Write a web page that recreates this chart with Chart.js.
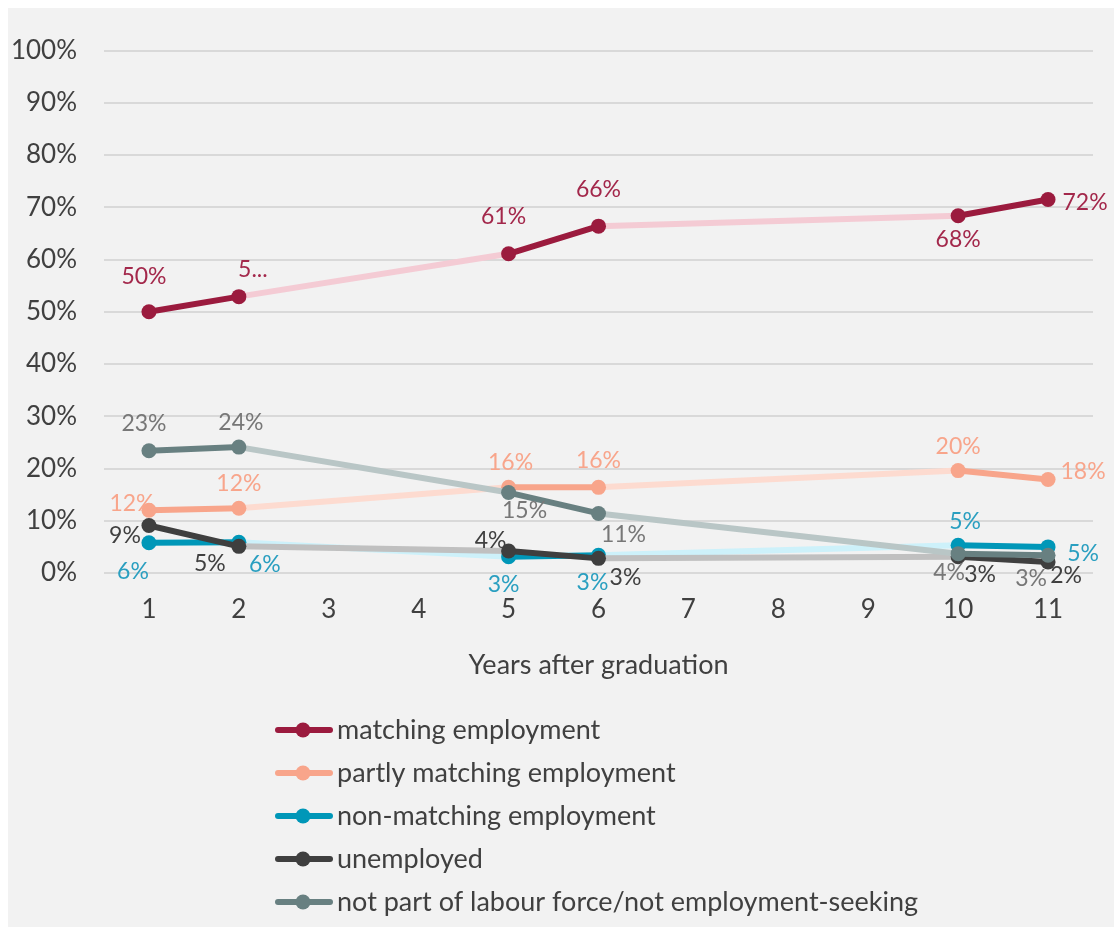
<!DOCTYPE html>
<html>
<head>
<meta charset="utf-8">
<script src="https://cdn.jsdelivr.net/npm/chart.js@4.4.1/dist/chart.umd.min.js"></script>
<style>
body { margin: 8px 0 0 8px; background: #fff; }
#wrap { width: 1106px; height: 919px; background: #f2f2f2; }
</style>
</head>
<body>
<div id="wrap"><canvas id="chart" width="1106" height="919"></canvas></div>
<script>
// x ticks and the survey years that have values
const yearTicks = [1, 2, 3, 4, 5, 6, 7, 8, 9, 10, 11]
const surveyYears = [1, 2, 5, 6, 10, 11]

const seriesNames = [
    'matching employment',
    'partly matching employment',
    'non-matching employment',
    'unemployed',
    'not part of labour force/not employment-seeking'
]
const matching = [50.0, 52.9, 61.1, 66.4, 68.4, 71.5]
const partlyMatching = [12.0, 12.4, 16.4, 16.4, 19.6, 17.9]
const nonMatching = [5.8, 5.9, 3.1, 3.4, 5.3, 5.0]
const unemployed = [9.1, 5.1, 4.2, 2.8, 3.1, 2.1]
const notInLabourForce = [23.4, 24.1, 15.4, 11.4, 3.7, 3.4]

const yTicks = [0, 10, 20, 30, 40, 50, 60, 70, 80, 90, 100]

// colours: solid line, faded line between survey waves, label text
const colors = ['#9b1b3e', '#f8a58b', '#0097b8', '#3f3f3f', '#688081']
const fadedColors = ['#f4cbd4', '#fddbd0', '#cdf1fa', '#c0c0c0', '#b9c6c6']
const labelColors = ['#a3284b', '#f8a58b', '#2a9fc0', '#404040', '#777777']

// where each value label sits relative to its point (dx, dy of text centre)
const labelOffsets = [
    [[-5, -35], [14, -27], [-5, -37], [0, -37], [0, 24], [37, 3]],
    [[-17, -7], [0, -25], [2, -25], [0, -27], [0, -24], [35, -8]],
    [[-16, 29], [26, 22], [-5, 28], [-6, 27], [7, -24], [35, 7]],
    [[-24, 10], [-29, 17], [-18, -10], [27, 19], [22, 18], [18, 14]],
    [[-5, -27], [2, -25], [16, 18], [25, 21], [-9, 19], [-17, 23]]
]
// labels Excel cut short
const labelOverrides = { '0-1': '5...' }

const allSeries = [matching, partlyMatching, nonMatching, unemployed, notInLabourForce]
const FONT = 'Lato, "Open Sans", sans-serif'

const datasets = allSeries.map((values, i) => ({
    label: seriesNames[i],
    data: values.map((v, j) => ({ x: surveyYears[j], y: v })),
    borderColor: colors[i],
    backgroundColor: colors[i],
    pointBackgroundColor: colors[i],
    pointBorderWidth: 0,
    pointRadius: 7.5,
    borderWidth: 6,
    borderCapStyle: 'round',
    order: allSeries.length - i,
    segment: {
        borderColor: ctx => (ctx.p1.parsed.x - ctx.p0.parsed.x > 1 ? fadedColors[i] : colors[i])
    }
}))

const valueLabels = {
    id: 'valueLabels',
    afterDatasetsDraw(chart) {
        const ctx = chart.ctx
        ctx.save()
        ctx.font = '23px ' + FONT
        ctx.textAlign = 'center'
        ctx.textBaseline = 'middle'
        chart.data.datasets.forEach((ds, i) => {
            const meta = chart.getDatasetMeta(i)
            meta.data.forEach((pt, j) => {
                const off = labelOffsets[i][j]
                const txt = labelOverrides[i + '-' + j] || Math.round(allSeries[i][j]) + '%'
                ctx.fillStyle = labelColors[i]
                ctx.fillText(txt, pt.x + off[0], pt.y + off[1])
            })
        })
        ctx.restore()
    }
}

const lineLegend = {
    id: 'lineLegend',
    afterDraw(chart) {
        const ctx = chart.ctx
        ctx.save()
        ctx.font = '27px ' + FONT
        ctx.textBaseline = 'middle'
        seriesNames.forEach((name, i) => {
            const y = 722 + i * 43
            ctx.strokeStyle = colors[i]
            ctx.lineWidth = 6
            ctx.lineCap = 'round'
            ctx.beginPath()
            ctx.moveTo(270, y)
            ctx.lineTo(322, y)
            ctx.stroke()
            ctx.fillStyle = colors[i]
            ctx.beginPath()
            ctx.arc(295, y, 7.5, 0, Math.PI * 2)
            ctx.fill()
            ctx.fillStyle = '#404040'
            ctx.fillText(name, 329, y)
        })
        ctx.restore()
    }
}

new Chart(document.getElementById('chart').getContext('2d'), {
    type: 'line',
    data: { datasets: datasets },
    plugins: [valueLabels, lineLegend],
    options: {
        responsive: false,
        animation: false,
        layout: { padding: { top: 39, right: 21, bottom: 244, left: 0 } },
        plugins: {
            legend: { display: false },
            tooltip: { enabled: false }
        },
        scales: {
            x: {
                type: 'linear',
                min: 0.5,
                max: 11.5,
                afterBuildTicks: scale => { scale.ticks = yearTicks.map(v => ({ value: v })) },
                afterFit: scale => { scale.height = 110 },
                grid: { display: false },
                border: { display: false },
                ticks: { color: '#404040', font: { family: FONT, size: 26 }, padding: 13 },
                title: {
                    display: true,
                    text: 'Years after graduation',
                    color: '#404040',
                    font: { family: FONT, size: 27 },
                    padding: { top: 4, bottom: 2 }
                }
            },
            y: {
                min: 0,
                max: 100,
                afterBuildTicks: scale => { scale.ticks = yTicks.map(v => ({ value: v })) },
                afterFit: scale => { scale.width = 96 },
                grid: { color: '#d9d9d9', lineWidth: 2, drawTicks: false },
                border: { display: false },
                ticks: {
                    color: '#404040',
                    font: { family: FONT, size: 26 },
                    padding: 27,
                    callback: v => v + '%'
                }
            }
        }
    }
})
</script>
</body>
</html>
